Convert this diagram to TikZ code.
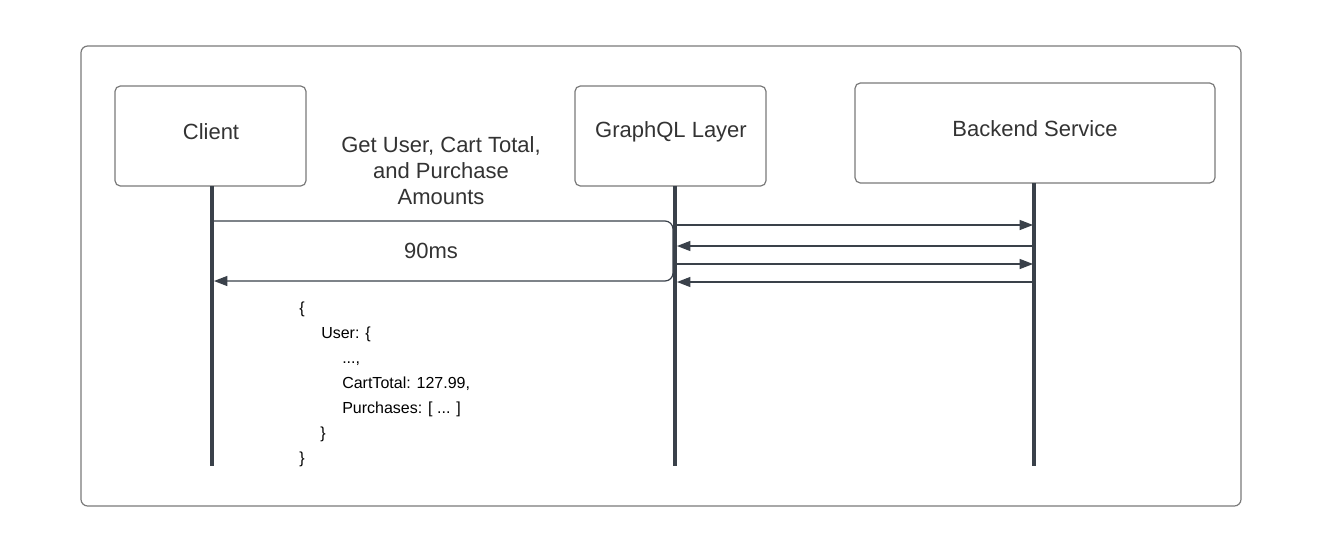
\documentclass[tikz,border=0pt]{standalone}
\usepackage{fontspec}
\setmainfont{Liberation Sans}
\usetikzlibrary{arrows.meta}
\definecolor{ink}{HTML}{3A414A}
\definecolor{frame}{HTML}{7A7A7A}
\definecolor{txt}{HTML}{333333}
\begin{document}
\begin{tikzpicture}[x=0.75pt,y=-0.75pt,
  actor/.style={draw=frame,line width=0.9pt,rounded corners=4pt,inner sep=0pt},
  lbl/.style={text=txt,inner sep=0pt,font=\fontsize{16.5}{20}\selectfont},
  life/.style={draw=ink,line width=2.5pt},
  msg/.style={draw=ink,line width=0.9pt,-{Triangle[length=10pt,width=7.5pt]}},
  json/.style={anchor=base west,inner sep=0pt,font=\fontsize{12}{14}\selectfont}]
\useasboundingbox (0,0) rectangle (1321,551);
\fill[white] (0,0) rectangle (1321,551);
\draw[frame,line width=0.9pt,rounded corners=5pt] (81,46) rectangle (1241,506);
\node[actor,minimum width=191*0.75pt,minimum height=100*0.75pt] (client) at (210.5,136) {};
\node[lbl] (clientlbl) at (211,132) {Client};
\node[actor,minimum width=191*0.75pt,minimum height=100*0.75pt] (gql) at (670.5,136) {};
\node[lbl] (gqllbl) at (671,132) {GraphQL Layer};
\node[actor,minimum width=360*0.75pt,minimum height=100*0.75pt] (back) at (1035,133) {};
\node[lbl] (backlbl) at (1035,129) {Backend Service};
% lifelines
\coordinate (cl0) at (212,186); \coordinate (cl1) at (212,466);
\coordinate (gl0) at (675,186); \coordinate (gl1) at (675,466);
\coordinate (bl0) at (1034,183); \coordinate (bl1) at (1034,466);
\draw[life] (cl0) -- (cl1);
\draw[life] (gl0) -- (gl1);
\draw[life] (bl0) -- (bl1);
% request label
\node[lbl,align=center,font=\fontsize{16.5}{19.5}\selectfont] (req) at (441,171) {Get User, Cart Total,\\and Purchase\\Amounts};
% round trip connector
\coordinate (c1) at (213,221);
\coordinate (c2) at (673,221);
\coordinate (c3) at (673,281);
\coordinate (c4) at (214,281);
\draw[msg,rounded corners=6pt] (c1) -- (c2) -- (c3) -- (c4);
\node[lbl] (lat) at (431,251) {90ms};
% calls to backend
\coordinate (g1) at (677,225); \coordinate (b1) at (1033,225);
\coordinate (g2) at (677,246); \coordinate (b2) at (1033,246);
\coordinate (g3) at (677,264); \coordinate (b3) at (1033,264);
\coordinate (g4) at (677,282); \coordinate (b4) at (1033,282);
\draw[msg] (g1) -- (b1);
\draw[msg] (b2) -- (g2);
\draw[msg] (g3) -- (b3);
\draw[msg] (b4) -- (g4);
% json
\node[json] (j1) at (299,313) {\{};
\node[json] (j2) at (321,338) {User: \{};
\node[json] (j3) at (342,363) {...,};
\node[json] (j4) at (342,388) {CartTotal: 127.99,};
\node[json] (j5) at (342,413) {Purchases: [ ... ]};
\node[json] (j6) at (320,438) {\}};
\node[json] (j7) at (299,463) {\}};
\end{tikzpicture}
\end{document}
